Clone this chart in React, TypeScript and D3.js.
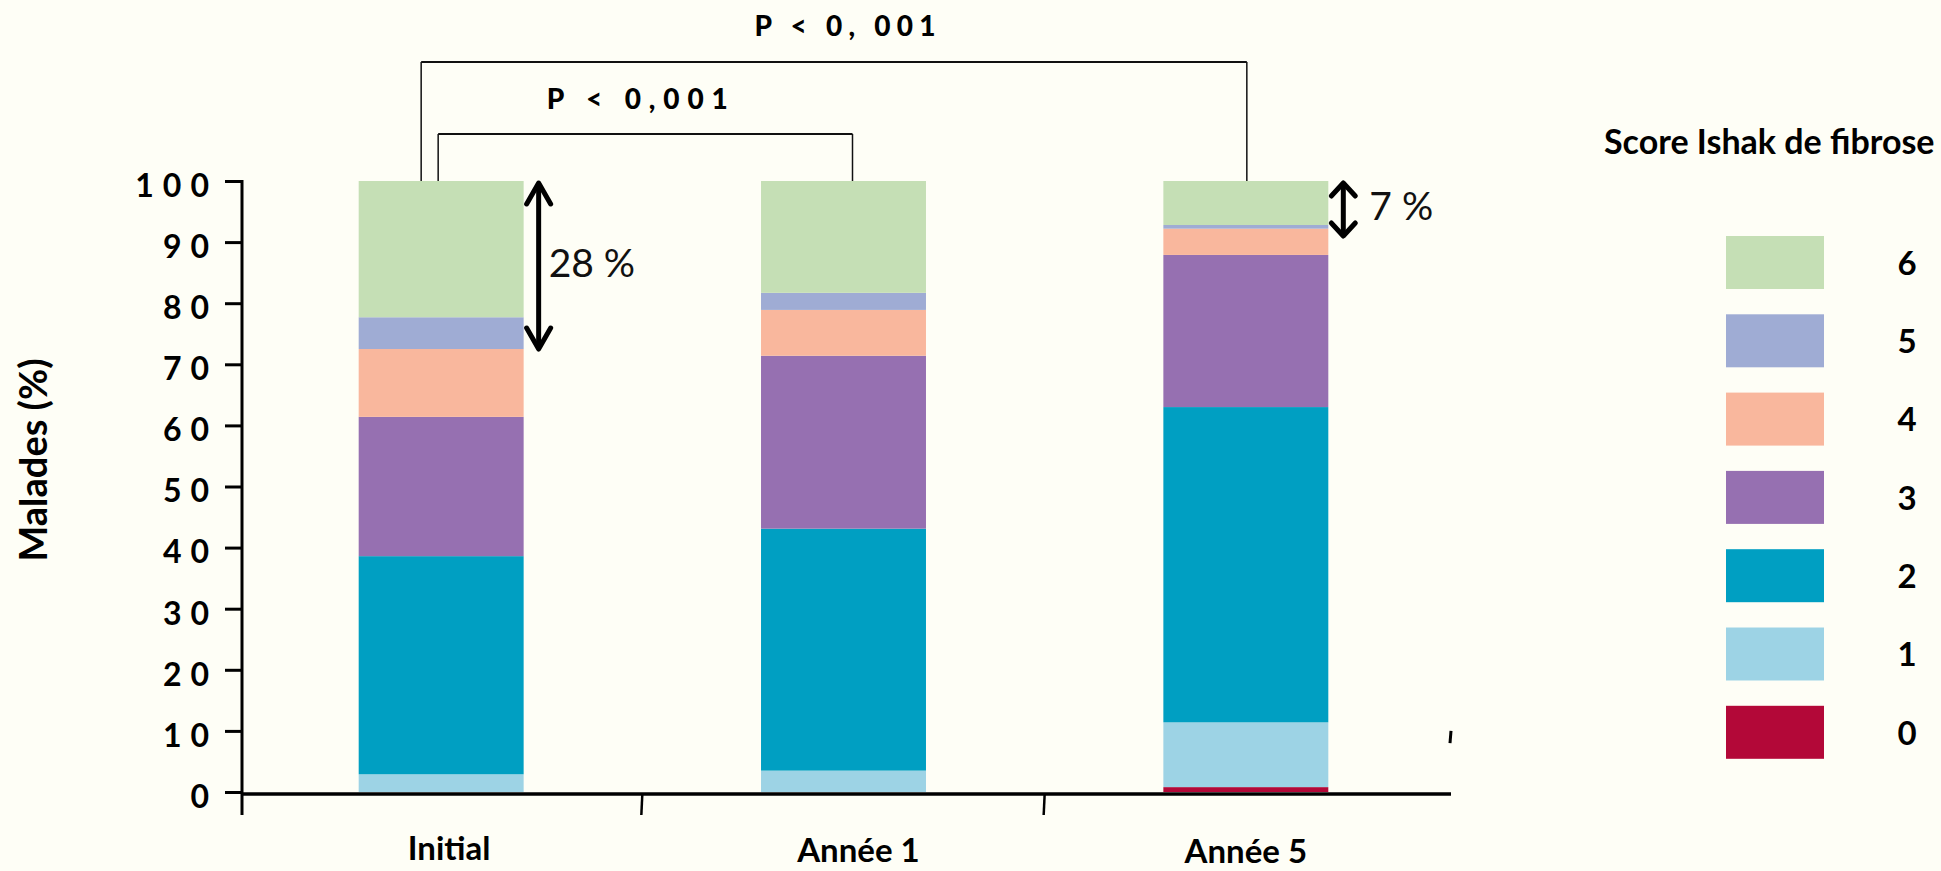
import React from 'react';
import * as d3 from 'd3';

// Ishak fibrosis score distribution (% of patients) per visit
const categories = ['Initial', 'Année 1', 'Année 5'];
const scores = ['0', '1', '2', '3', '4', '5', '6'];
const score0 = [0, 0, 0.8];
const score1 = [2.9, 3.5, 10.6];
const score2 = [35.7, 39.6, 51.6];
const score3 = [22.8, 28.3, 24.9];
const score4 = [11.1, 7.5, 4.3];
const score5 = [5.2, 2.8, 0.6];
const score6 = [22.3, 18.3, 7.2];
const scoreColors = ['#b30838', '#9dd3e5', '#009fc2', '#9670b1', '#f9b79d', '#9facd4', '#c5dfb5'];
const yTicks = [0, 10, 20, 30, 40, 50, 60, 70, 80, 90, 100];
const yLabel = 'Malades (%)';
const legendTitle = 'Score Ishak de fibrose';

// significance brackets and the "severe fibrosis" arrows
const comparisons = [
  {from: 'Initial', to: 'Année 5', label: 'P < 0, 001'},
  {from: 'Initial', to: 'Année 1', label: 'P < 0,001'},
];
const arrowCats = ['Initial', 'Année 5'];
const arrowTops = [100, 100];
const arrowBottoms = [72.5, 91];
const arrowLabels = ['28 %', '7 %'];

const FONT = 'Lato, "Liberation Sans", sans-serif';

export default class App extends React.Component {
  svgRef = React.createRef<SVGSVGElement>();

  sizing = {
    width: 1941,
    height: 871,
    axisX: 242,
    axisY: 794,
    axisEnd: 1451,
    top: 181,
    zero: 792,
  };

  setupDom(): void {
    const s = this.sizing;
    const node = this.svgRef.current;
    if (!node) return;
    while (node.firstChild) node.removeChild(node.firstChild);

    const series = [score0, score1, score2, score3, score4, score5, score6];
    const table = categories.map((c, i) => {
      const row: any = {cat: c};
      scores.forEach((k, j) => { row[k] = series[j][i]; });
      return row;
    });
    const stacked = d3.stack<any>().keys(scores)(table);

    const yScale = d3.scaleLinear().domain([0, 100]).range([s.zero, s.top]);
    const xScale = d3.scaleBand()
      .domain(categories)
      .range([240, 1447])
      .paddingInner(0.59)
      .paddingOuter(0.295);
    const bw = xScale.bandwidth();
    const center = (c: string) => (xScale(c) as number) + bw / 2;

    const svg = d3.select(node);
    svg.append('rect')
      .attr('width', s.width)
      .attr('height', s.height)
      .attr('fill', '#fefef6');

    // bars
    svg.append('g').selectAll('g')
      .data(stacked)
      .enter().append('g')
      .attr('fill', (_d, i) => scoreColors[i])
      .selectAll('rect')
      .data(d => d)
      .enter().append('rect')
      .attr('x', (d: any) => xScale(d.data.cat) as number)
      .attr('width', bw)
      .attr('y', d => yScale(d[1]))
      .attr('height', d => Math.max(0, yScale(d[0]) - yScale(d[1])));

    // y axis
    const yAxis = svg.append('g')
      .attr('transform', `translate(${s.axisX},0)`)
      .call(d3.axisLeft(yScale).tickValues(yTicks).tickSize(17).tickPadding(7).tickFormat(d3.format('d')));
    yAxis.select('.domain').remove();
    yAxis.attr('font-family', FONT).attr('font-size', 32);
    yAxis.selectAll('line').attr('stroke', '#000').attr('stroke-width', 3);
    yAxis.selectAll('text')
      .attr('font-weight', 700)
      .attr('letter-spacing', 9)
      .attr('fill', '#000')
      .attr('dy', '0.48em');
    svg.append('line')
      .attr('x1', s.axisX).attr('x2', s.axisX)
      .attr('y1', yScale(100) - 1).attr('y2', s.axisY + 21)
      .attr('stroke', '#000').attr('stroke-width', 3);

    svg.append('text')
      .attr('transform', `translate(47, 460) rotate(-90)`)
      .attr('text-anchor', 'middle')
      .attr('font-family', FONT)
      .attr('font-size', 38)
      .attr('font-weight', 700)
      .text(yLabel);

    // x axis
    svg.append('line')
      .attr('x1', s.axisX).attr('x2', s.axisEnd)
      .attr('y1', s.axisY).attr('y2', s.axisY)
      .attr('stroke', '#000').attr('stroke-width', 3.5);
    const edges = categories.slice(1).map((c, i) => (center(categories[i]) + center(c)) / 2);
    svg.append('g').selectAll('line')
      .data(edges)
      .enter().append('line')
      .attr('x1', d => d).attr('x2', d => d - 1)
      .attr('y1', s.axisY).attr('y2', s.axisY + 21)
      .attr('stroke', '#000').attr('stroke-width', 2.5);
    const lastEdge = center(categories[categories.length - 1]) + xScale.step() / 2 + 3;
    svg.append('line')
      .attr('x1', lastEdge + 1).attr('x2', lastEdge)
      .attr('y1', yScale(10)).attr('y2', yScale(8))
      .attr('stroke', '#000').attr('stroke-width', 3);

    const labelShift = [8, 15, 0];
    const labelBase = [860, 862, 863];
    svg.append('g').selectAll('text')
      .data(categories)
      .enter().append('text')
      .attr('x', (d, i) => center(d) + labelShift[i])
      .attr('y', (_d, i) => labelBase[i])
      .attr('text-anchor', 'middle')
      .attr('font-family', FONT)
      .attr('font-size', 33)
      .attr('font-weight', 700)
      .text(d => d);

    // significance brackets
    const bracketY = [62, 134];
    const bracketLeft = [-20, -3];
    const bracketRight = [1, 9];
    const textShift = [11, -8];
    const textBase = [36, 109];
    comparisons.forEach((c, i) => {
      const x1 = center(c.from) + bracketLeft[i];
      const x2 = center(c.to) + bracketRight[i];
      const g = svg.append('g').attr('fill', 'none').attr('stroke', '#111');
      g.append('line').attr('x1', x1).attr('x2', x2)
        .attr('y1', bracketY[i]).attr('y2', bracketY[i]).attr('stroke-width', 2.2);
      [x1, x2].forEach(x => {
        g.append('line').attr('x1', x).attr('x2', x)
          .attr('y1', bracketY[i]).attr('y2', yScale(100)).attr('stroke-width', 1.5);
      });
      svg.append('text')
        .attr('x', (x1 + x2) / 2 + textShift[i])
        .attr('y', textBase[i])
        .attr('text-anchor', 'middle')
        .attr('font-family', FONT)
        .attr('font-size', 28)
        .attr('font-weight', 900)
        .attr('textLength', 181)
        .attr('lengthAdjust', 'spacing')
        .text(c.label);
    });

    // double-headed arrows
    const headLen = [21, 13];
    const labelGap = [10, 26];
    arrowCats.forEach((c, i) => {
      const x = (xScale(c) as number) + bw + 15;
      const y1 = yScale(arrowTops[i]) + 2;
      const y2 = yScale(arrowBottoms[i]);
      const h = headLen[i];
      const g = svg.append('g')
        .attr('fill', 'none')
        .attr('stroke', '#000')
        .attr('stroke-width', 5)
        .attr('stroke-linecap', 'round')
        .attr('stroke-linejoin', 'round');
      g.append('line').attr('x1', x).attr('x2', x).attr('y1', y1 + 2).attr('y2', y2 - 2);
      g.append('path').attr('d', `M${x - 12},${y1 + h} L${x},${y1} L${x + 12},${y1 + h}`);
      g.append('path').attr('d', `M${x - 12},${y2 - h} L${x},${y2} L${x + 12},${y2 - h}`);
      svg.append('text')
        .attr('x', x + labelGap[i])
        .attr('y', (y1 + y2) / 2 + 11)
        .attr('font-family', FONT)
        .attr('font-size', 39)
        .attr('fill', '#111')
        .text(arrowLabels[i]);
    });

    // legend
    svg.append('text')
      .attr('x', 1604)
      .attr('y', 154)
      .attr('font-family', FONT)
      .attr('font-size', 34)
      .attr('font-weight', 700)
      .text(legendTitle);
    const legendOrder = scores.slice().reverse();
    const legend = svg.append('g').selectAll('g')
      .data(legendOrder)
      .enter().append('g')
      .attr('transform', (_d, i) => `translate(1726, ${236 + i * 78.3})`);
    legend.append('rect')
      .attr('width', 98)
      .attr('height', 53)
      .attr('fill', d => scoreColors[scores.indexOf(d)]);
    legend.append('text')
      .attr('x', 181)
      .attr('y', 27)
      .attr('dy', '0.36em')
      .attr('text-anchor', 'middle')
      .attr('font-family', FONT)
      .attr('font-size', 33)
      .attr('font-weight', 700)
      .text(d => d);
  }

  componentDidMount(): void {
    document.body.style.margin = '0';
    this.setupDom();
  }

  render(): React.ReactNode {
    const {width, height} = this.sizing;
    return (
      <svg ref={this.svgRef} width={width} height={height} style={{display: 'block'}} />
    );
  }
}
